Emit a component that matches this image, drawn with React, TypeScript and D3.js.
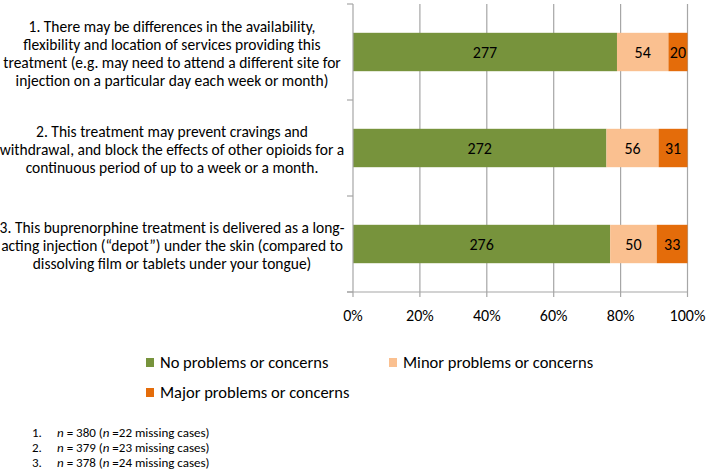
import React from "react";
import * as d3 from "d3";

const categories = ["1", "2", "3"];
const categoryLabels: string[][] = [
  [
    "1. There may be differences in the availability,",
    "flexibility and location of services providing this",
    "treatment (e.g. may need to attend a different site for",
    "injection on a particular day each week or month)",
  ],
  [
    "2. This treatment may prevent cravings and",
    "withdrawal, and block the effects of other opioids for a",
    "continuous period of up to a week or a month.",
  ],
  [
    "3. This buprenorphine treatment is delivered as a long-",
    "acting injection (\u201cdepot\u201d) under the skin (compared to",
    "dissolving film or tablets under your tongue)",
  ],
];
const seriesNames = ["No problems or concerns", "Minor problems or concerns", "Major problems or concerns"];
const noProblems = [277, 272, 276];
const minorProblems = [54, 56, 50];
const majorProblems = [20, 31, 33];
const tickValues = [0, 0.2, 0.4, 0.6, 0.8, 1];
const colors = ["#77933C", "#FAC090", "#E46C0A"];
const footnoteNums = ["1.", "2.", "3."];
const footnoteN = ["380", "379", "378"];
const footnoteMissing = ["22", "23", "24"];

const FONT = "Carlito, Calibri, Lato, 'Open Sans', sans-serif";

export default function App() {
  const W = 709;
  const H = 473;
  const plot = { left: 353, right: 687.5, top: 4, bottom: 292 };

  const x = d3.scaleLinear().domain([0, 1]).range([plot.left, plot.right]);
  const y = d3
    .scaleBand<string>()
    .domain(categories)
    .range([plot.top, plot.bottom])
    .paddingInner(0.6)
    .paddingOuter(0.3);
  const yOuter = d3.scaleBand<string>().domain(categories).range([plot.top, plot.bottom]);

  const rows = categories.map((c, i) => ({
    cat: c,
    s0: noProblems[i],
    s1: minorProblems[i],
    s2: majorProblems[i],
  }));
  const stack = d3.stack<any>().keys(["s0", "s1", "s2"]).offset(d3.stackOffsetExpand);
  const series = stack(rows);
  const tickFmt = d3.format(".0%");

  const boundaries = [plot.top, ...categories.map((c) => (yOuter(c) as number) + yOuter.bandwidth())];

  return (
    <svg
      width={W}
      height={H}
      style={{ position: "absolute", left: 0, top: 0, background: "#fff" }}
      fontFamily={FONT}
    >
      <rect width={W} height={H} fill="#fff" />
      {/* gridlines */}
      {tickValues.slice(1).map((t) => (
        <line key={t} x1={x(t)} x2={x(t)} y1={plot.top} y2={plot.bottom} stroke="#A6A6A6" strokeWidth={1.2} />
      ))}
      {/* bars */}
      {series.map((s, si) =>
        s.map((d, di) => {
          const x0 = x(d[0]);
          const x1 = x(d[1]);
          const yy = y(rows[di].cat) as number;
          const vals = [noProblems, minorProblems, majorProblems][si];
          return (
            <g key={`${si}-${di}`}>
              <rect x={x0} y={yy} width={x1 - x0} height={y.bandwidth()} fill={colors[si]} />
              <text
                x={(x0 + x1) / 2}
                y={yy + y.bandwidth() / 2}
                textAnchor="middle"
                dominantBaseline="central"
                fontSize={16}
                fill="#000"
              >
                {vals[di]}
              </text>
            </g>
          );
        })
      )}
      {/* y axis */}
      <line x1={plot.left} x2={plot.left} y1={plot.top} y2={plot.bottom} stroke="#A6A6A6" strokeWidth={1.2} />
      {boundaries.map((b, i) => (
        <line key={i} x1={plot.left - 6} x2={plot.left} y1={b} y2={b} stroke="#A6A6A6" strokeWidth={1.2} />
      ))}
      {/* x axis */}
      <line x1={plot.left - 6} x2={plot.right} y1={plot.bottom} y2={plot.bottom} stroke="#A6A6A6" strokeWidth={1.2} />
      {tickValues.map((t) => (
        <g key={t}>
          <line x1={x(t)} x2={x(t)} y1={plot.bottom} y2={plot.bottom + 5} stroke="#A6A6A6" strokeWidth={1.2} />
          <text x={x(t)} y={plot.bottom + 29} textAnchor="middle" fontSize={16} fill="#000">
            {tickFmt(t)}
          </text>
        </g>
      ))}
      {/* category labels */}
      {categories.map((c, i) => {
        const cy = (y(c) as number) + y.bandwidth() / 2;
        const lines = categoryLabels[i];
        const lh = 18.2;
        const start = cy - ((lines.length - 1) * lh) / 2 + 1.5;
        return (
          <text key={c} textAnchor="middle" fontSize={15.5} fill="#000">
            {lines.map((l, li) => (
              <tspan key={li} x={172} y={start + li * lh} dy="0.35em">
                {l}
              </tspan>
            ))}
          </text>
        );
      })}
      {/* legend */}
      {seriesNames.map((n, i) => {
        const lx = i === 1 ? 389 : 146;
        const ly = i === 2 ? 388 : 358;
        return (
          <g key={n}>
            <rect x={lx} y={ly} width={8} height={9} fill={colors[i]} />
            <text x={lx + 14} y={ly + 9.5} fontSize={16.5} fill="#000">
              {n}
            </text>
          </g>
        );
      })}
      {/* footnotes */}
      {footnoteNums.map((f, i) => (
        <text key={f} y={437 + i * 15} fontSize={13} fill="#000">
          <tspan x={32}>{f}</tspan>
          <tspan x={57} fontStyle="italic">n</tspan>
          <tspan>{` = ${footnoteN[i]} (`}</tspan>
          <tspan fontStyle="italic">n</tspan>
          <tspan>{` =${footnoteMissing[i]} missing cases)`}</tspan>
        </text>
      ))}
    </svg>
  );
}
